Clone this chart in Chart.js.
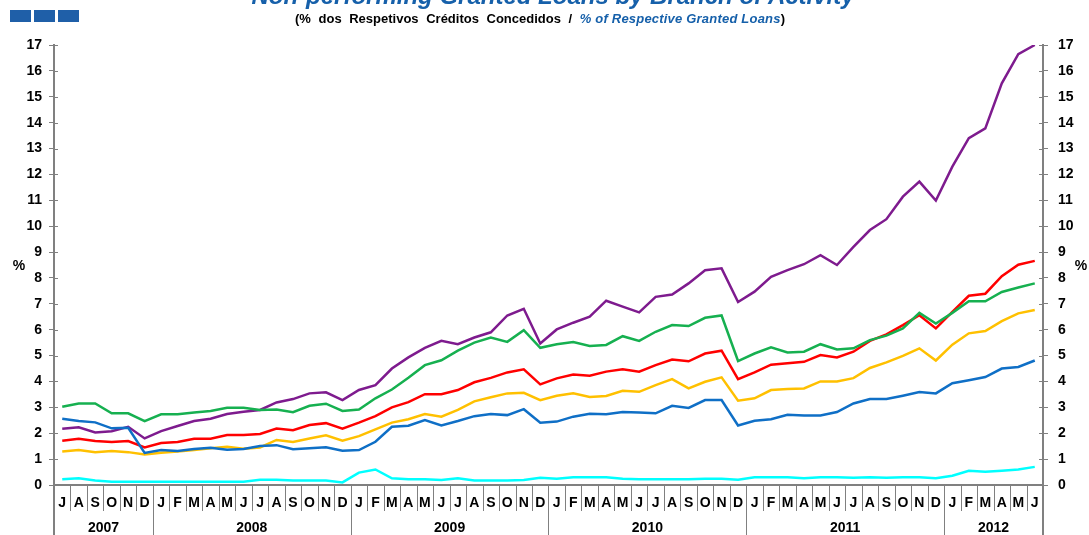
<!DOCTYPE html>
<html>
<head>
<meta charset="utf-8">
<script src="https://cdn.jsdelivr.net/npm/chart.js@4.4.1/dist/chart.umd.min.js"></script>
<style>
html,body{margin:0;padding:0;background:#fff;}
#wrap{position:relative;width:1089px;height:535px;overflow:hidden;font-family:"Liberation Sans",Arial,sans-serif;}
#c{position:absolute;left:0;top:0;}
#title{position:absolute;left:0;width:1106px;top:-18px;text-align:center;font:italic bold 24px "Liberation Sans",Arial,sans-serif;color:#1660AA;white-space:nowrap;}
#sub{position:absolute;left:0;width:1080px;top:11px;text-align:center;font:bold 13px "Liberation Sans",Arial,sans-serif;color:#000;white-space:nowrap;word-spacing:4px;}
#sub i{color:#1660AA;word-spacing:0;letter-spacing:0.2px;}
.sq{position:absolute;top:10px;width:21px;height:12px;background:#1F5FA8;}
</style>
</head>
<body>
<div id="wrap">
<canvas id="c" width="1089" height="535"></canvas>
<div id="title">Non-performing Granted Loans by Branch of Activity</div>
<div id="sub">(% dos Respetivos Créditos Concedidos / <i>% of Respective Granted Loans</i>)</div>
<div class="sq" style="left:10px"></div>
<div class="sq" style="left:34px"></div>
<div class="sq" style="left:58px"></div>
</div>
<script>
// ---- data ----
const monthLabels = ["J","A","S","O","N","D",
  "J","F","M","A","M","J","J","A","S","O","N","D",
  "J","F","M","A","M","J","J","A","S","O","N","D",
  "J","F","M","A","M","J","J","A","S","O","N","D",
  "J","F","M","A","M","J","J","A","S","O","N","D",
  "J","F","M","A","M","J"];
const years = ["2007","2008","2009","2010","2011","2012"];
const yearStartIdx = [0,6,18,30,42,54];
const yTicks = [0,1,2,3,4,5,6,7,8,9,10,11,12,13,14,15,16,17];

const purple = [2.17,2.23,2.03,2.08,2.25,1.80,2.08,2.28,2.47,2.56,2.74,2.83,
  2.90,3.19,3.32,3.54,3.58,3.28,3.67,3.86,4.50,4.93,5.30,5.57,
  5.44,5.70,5.90,6.55,6.81,5.47,6.01,6.27,6.50,7.12,6.89,6.67,
  7.27,7.36,7.79,8.30,8.37,7.07,7.47,8.04,8.30,8.53,8.88,8.50,
  9.20,9.85,10.27,11.14,11.72,10.99,12.30,13.40,13.78,15.52,16.65,17.00];
const green = [3.02,3.15,3.15,2.77,2.77,2.47,2.73,2.73,2.80,2.86,2.98,2.98,
  2.90,2.92,2.81,3.06,3.14,2.86,2.92,3.35,3.69,4.14,4.63,4.82,
  5.19,5.50,5.70,5.53,5.98,5.30,5.44,5.52,5.37,5.41,5.75,5.57,
  5.92,6.18,6.14,6.46,6.55,4.79,5.08,5.32,5.12,5.15,5.44,5.24,
  5.28,5.60,5.77,6.05,6.65,6.24,6.65,7.10,7.10,7.46,7.63,7.79];
const red = [1.71,1.79,1.70,1.66,1.70,1.45,1.62,1.66,1.79,1.79,1.93,1.93,
  1.97,2.18,2.12,2.32,2.39,2.18,2.41,2.66,3.00,3.20,3.51,3.51,
  3.67,3.97,4.14,4.35,4.47,3.89,4.12,4.27,4.22,4.38,4.47,4.38,
  4.63,4.85,4.78,5.08,5.19,4.09,4.35,4.65,4.70,4.76,5.02,4.93,
  5.15,5.57,5.82,6.18,6.56,6.05,6.69,7.31,7.39,8.07,8.51,8.66];
const yellow = [1.29,1.35,1.27,1.31,1.27,1.18,1.25,1.29,1.35,1.42,1.48,1.40,
  1.45,1.74,1.66,1.80,1.92,1.71,1.89,2.15,2.41,2.54,2.74,2.64,
  2.90,3.23,3.39,3.54,3.56,3.28,3.45,3.54,3.40,3.44,3.64,3.60,
  3.86,4.09,3.73,3.99,4.16,3.26,3.35,3.67,3.71,3.73,4.00,4.00,
  4.13,4.52,4.74,4.99,5.28,4.81,5.42,5.86,5.95,6.33,6.63,6.76];
const blue = [2.56,2.47,2.42,2.19,2.21,1.24,1.35,1.31,1.39,1.44,1.36,1.39,
  1.51,1.54,1.38,1.42,1.46,1.32,1.35,1.67,2.25,2.29,2.51,2.30,
  2.47,2.66,2.74,2.70,2.93,2.41,2.45,2.64,2.75,2.73,2.82,2.80,
  2.77,3.06,2.98,3.28,3.28,2.30,2.48,2.54,2.71,2.69,2.69,2.82,
  3.15,3.32,3.32,3.45,3.59,3.54,3.93,4.05,4.17,4.50,4.56,4.81];
const cyan = [0.22,0.26,0.17,0.13,0.13,0.13,0.13,0.13,0.13,0.13,0.13,0.13,
  0.20,0.20,0.17,0.17,0.17,0.10,0.48,0.60,0.26,0.22,0.22,0.19,
  0.26,0.17,0.17,0.17,0.19,0.28,0.24,0.30,0.30,0.30,0.24,0.22,
  0.22,0.22,0.22,0.24,0.24,0.20,0.30,0.30,0.30,0.26,0.30,0.30,
  0.28,0.30,0.28,0.30,0.30,0.26,0.36,0.55,0.51,0.55,0.60,0.70];

const AXIS = '#808080';
const tickFont = {family:'"Liberation Sans", Arial, sans-serif', size:14, weight:'bold'};

const decor = {
  id:'decor',
  afterDraw(chart){
    const ctx = chart.ctx, xs = chart.scales.x, ys = chart.scales.y, a = chart.chartArea;
    const n = monthLabels.length;
    const half = (xs.getPixelForValue(1) - xs.getPixelForValue(0)) / 2;
    ctx.save();
    ctx.strokeStyle = AXIS;
    ctx.lineWidth = 1;
    for (let i = 1; i < n; i++) {
      const px = Math.round(xs.getPixelForValue(i) - half) + 0.5;
      const isYear = yearStartIdx.indexOf(i) >= 0;
      ctx.beginPath();
      ctx.moveTo(px, a.bottom);
      ctx.lineTo(px, isYear ? 535 : 511);
      ctx.stroke();
    }
    ctx.lineWidth = 2;
    [a.left, a.right].forEach(px => {
      ctx.beginPath(); ctx.moveTo(px, a.bottom); ctx.lineTo(px, 535); ctx.stroke();
    });
    yTicks.forEach(v => {
      const py = Math.round(ys.getPixelForValue(v)) + 0.5;
      ctx.lineWidth = 1;
      ctx.beginPath(); ctx.moveTo(a.left, py); ctx.lineTo(a.left + 4, py); ctx.stroke();
      ctx.beginPath(); ctx.moveTo(a.right - 4, py); ctx.lineTo(a.right, py); ctx.stroke();
    });
    ctx.fillStyle = '#000';
    ctx.font = 'bold 14px "Liberation Sans", Arial, sans-serif';
    ctx.textAlign = 'center';
    ctx.textBaseline = 'middle';
    for (let k = 0; k < years.length; k++) {
      const s = yearStartIdx[k];
      const e = (k + 1 < years.length ? yearStartIdx[k + 1] : n) - 1;
      const cx = (xs.getPixelForValue(s) - half + xs.getPixelForValue(e) + half) / 2;
      ctx.fillText(years[k], cx, 528);
    }
    ctx.fillText('%', 19, 266);
    ctx.fillText('%', 1081, 266);
    ctx.restore();
  }
};

function ds(label, data, color){
  return {label, data, borderColor: color, backgroundColor: color, borderWidth: 2.5,
    pointRadius: 0, tension: 0, fill: false};
}

new Chart(document.getElementById('c'), {
  type: 'line',
  data: {
    labels: monthLabels,
    datasets: [
      ds('cyan', cyan, '#00FFFF'),
      ds('blue', blue, '#0F6FC6'),
      ds('yellow', yellow, '#FFC000'),
      ds('green', green, '#16B050'),
      ds('red', red, '#FF0000'),
      ds('purple', purple, '#7E1B8E')
    ]
  },
  options: {
    responsive: false,
    animation: false,
    events: [],
    layout: {padding: {top: 45, bottom: 0, left: 0, right: 0}},
    plugins: {legend: {display: false}, title: {display: false}, tooltip: {enabled: false}},
    scales: {
      x: {
        type: 'category',
        offset: true,
        grid: {display: false, drawTicks: false},
        border: {display: true, color: AXIS, width: 2},
        ticks: {color: '#000', font: tickFont, maxRotation: 0, autoSkip: false, padding: 10},
        afterFit(s){ s.height = 50; }
      },
      y: {
        position: 'left',
        min: 0, max: 17,
        afterBuildTicks(s){ s.ticks = yTicks.map(v => ({value: v})); },
        grid: {drawOnChartArea: false, drawTicks: true, tickLength: 5, color: AXIS},
        border: {display: true, color: AXIS, width: 2},
        ticks: {color: '#000', font: tickFont, padding: 7},
        afterFit(s){ s.width = 54; }
      },
      y2: {
        position: 'right',
        min: 0, max: 17,
        afterBuildTicks(s){ s.ticks = yTicks.map(v => ({value: v})); },
        grid: {drawOnChartArea: false, drawTicks: true, tickLength: 5, color: AXIS},
        border: {display: true, color: AXIS, width: 2},
        ticks: {color: '#000', font: tickFont, padding: 10},
        afterFit(s){ s.width = 46; }
      }
    }
  },
  plugins: [decor]
});
</script>
</body>
</html>
